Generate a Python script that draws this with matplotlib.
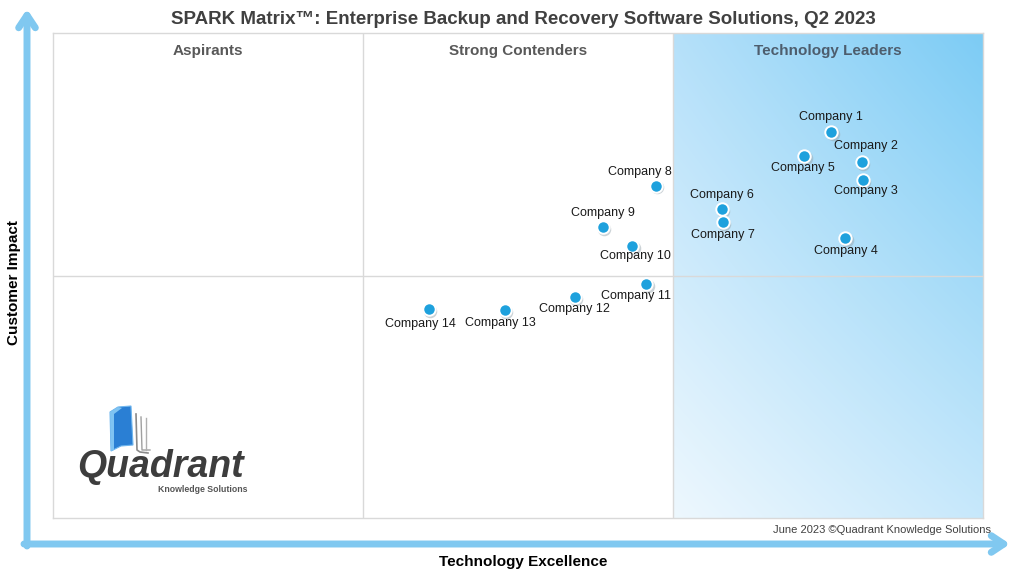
import numpy as np
import matplotlib
matplotlib.use("Agg")
import matplotlib.pyplot as plt
from matplotlib.patches import Polygon

plt.rcParams['font.family'] = ['Liberation Sans', 'DejaVu Sans']

# vendor positions (technology excellence, customer impact), 0-100 scale
companies = ["Company 1", "Company 2", "Company 3", "Company 4", "Company 5",
             "Company 6", "Company 7", "Company 8", "Company 9", "Company 10",
             "Company 11", "Company 12", "Company 13", "Company 14"]
tech_excellence = [83.7, 87.0, 87.1, 85.2, 80.8, 71.9, 72.0, 64.8, 59.1, 62.3,
                   63.8, 56.1, 48.6, 40.4]
customer_impact = [79.6, 73.4, 69.7, 57.7, 74.6, 63.7, 61.0, 68.5, 60.0, 56.1,
                   48.2, 45.6, 42.9, 43.1]
quadrants = ["Aspirants", "Strong Contenders", "Technology Leaders"]

# label offsets in pixels (dx, dy up)
label_off = {
    "Company 1": (0, 15), "Company 2": (4, 16), "Company 3": (3, -11),
    "Company 4": (1, -13), "Company 5": (-2, -12), "Company 6": (0, 14),
    "Company 7": (0, -13), "Company 8": (-16, 14), "Company 9": (0, 14),
    "Company 10": (3, -10), "Company 11": (-10, -12), "Company 12": (0, -12),
    "Company 13": (-5, -13), "Company 14": (-8, -15),
}

W, H = 1024, 576
fig = plt.figure(figsize=(W / 100, H / 100), dpi=100)
fig.patch.set_facecolor("white")

# main matrix area
x0, x1, y0, y1 = 53, 983, 33, 518
ax = fig.add_axes([x0 / W, (H - y1) / H, (x1 - x0) / W, (y1 - y0) / H])
ax.set_xlim(0, 100)
ax.set_ylim(0, 100)
ax.set_xticks([])
ax.set_yticks([])
for s in ax.spines.values():
    s.set_color("#d9d9d9")
    s.set_linewidth(1)

# gradient for leaders zone
tl = np.array([0.71, 0.88, 0.98])
tr = np.array([0.49, 0.80, 0.96])
bl = np.array([0.93, 0.97, 0.995])
br = np.array([0.78, 0.91, 0.985])
nx, ny = 60, 120
u = np.linspace(0, 1, nx)[None, :, None]
v = np.linspace(0, 1, ny)[:, None, None]  # 0 top, 1 bottom
grad = (1 - v) * ((1 - u) * tl + u * tr) + v * ((1 - u) * bl + u * br)
ax.imshow(grad, extent=[100 * 2 / 3, 100, 0, 100], aspect="auto",
          interpolation="bilinear", zorder=0, origin="upper")

ax.axvline(100 / 3, color="#d9d9d9", lw=1, zorder=1)
ax.axvline(200 / 3, color="#d9d9d9", lw=1, zorder=1)
ax.axhline(50, color="#d9d9d9", lw=1, zorder=1)

qcols = ["#595959", "#595959", "#4d5d6d"]
for i, q in enumerate(quadrants):
    ax.text(100 / 6 + i * 100 / 3, 96.3, q, ha="center", va="center",
            fontsize=11, fontweight="bold", color=qcols[i])

# markers with a soft shadow
ax.scatter(np.array(tech_excellence) + 0.15, np.array(customer_impact) - 0.35,
           s=95, color="#9aa8b0", alpha=0.5, lw=0, zorder=3)
ax.scatter(tech_excellence, customer_impact, s=80, color="#1ea1dd",
           edgecolor="white", linewidth=1.4, zorder=4)
for name, xv, yv in zip(companies, tech_excellence, customer_impact):
    dx, dy = label_off[name]
    ax.annotate(name, (xv, yv), xytext=(dx, dy), textcoords="offset pixels",
                ha="center", va="center", fontsize=9, color="#1a1a1a", zorder=5)

# overlay for arrows, titles and logo (pixel coords)
ov = fig.add_axes([0, 0, 1, 1], facecolor="none")
ov.set_xlim(0, W)
ov.set_ylim(H, 0)
ov.axis("off")

arrow_c = "#80c8f0"
ov.annotate("", xy=(27, 9), xytext=(27, 546),
            arrowprops=dict(arrowstyle="->,head_length=0.9,head_width=0.6",
                            lw=5, color=arrow_c, shrinkA=0, shrinkB=0))
ov.annotate("", xy=(1010, 544), xytext=(24, 544),
            arrowprops=dict(arrowstyle="->,head_length=0.9,head_width=0.6",
                            lw=5, color=arrow_c, shrinkA=0, shrinkB=0))

ov.text(523, 19, "SPARK Matrix\u2122: Enterprise Backup and Recovery Software Solutions, Q2 2023",
        ha="center", va="center", fontsize=13.5, fontweight="bold", color="#404040")
ov.text(14, 283, "Customer Impact", rotation=90, ha="center", va="center",
        fontsize=11, fontweight="bold", color="black")
ov.text(523, 562, "Technology Excellence", ha="center", va="center",
        fontsize=11, fontweight="bold", color="black")
ov.text(991, 530, "June 2023 \u00a9Quadrant Knowledge Solutions", ha="right",
        va="center", fontsize=8, color="#404040")

# logo
ov.plot([136, 137, 140, 148], [414, 450, 452, 453], color="#8a8a8a", lw=1.2)
ov.plot([141, 142, 146, 150], [417, 450, 450, 450], color="#a0a0a0", lw=1.0)
ov.plot([146, 146], [418, 450], color="#b0b0b0", lw=1.0)
ov.add_patch(Polygon([[110, 412], [118, 407], [131, 406], [133, 445],
                      [121, 446], [111, 451]], closed=True,
                     facecolor="#2a7fd4", edgecolor="#6fb6ee", lw=0.8))
ov.add_patch(Polygon([[110, 412], [118, 407], [122, 408], [114, 414],
                      [114, 450], [111, 451]], closed=True,
                     facecolor="#7fc3f2", edgecolor="none"))
ov.text(77, 477, "Quadrant", ha="left", va="baseline", fontsize=27,
        fontweight="bold", fontstyle="italic", color="#3d3d3d")
ov.text(248, 485, "Knowledge Solutions", ha="right", va="top",
        fontsize=6.3, fontweight="bold", color="#555555")

fig.savefig("out.png", dpi=100)
